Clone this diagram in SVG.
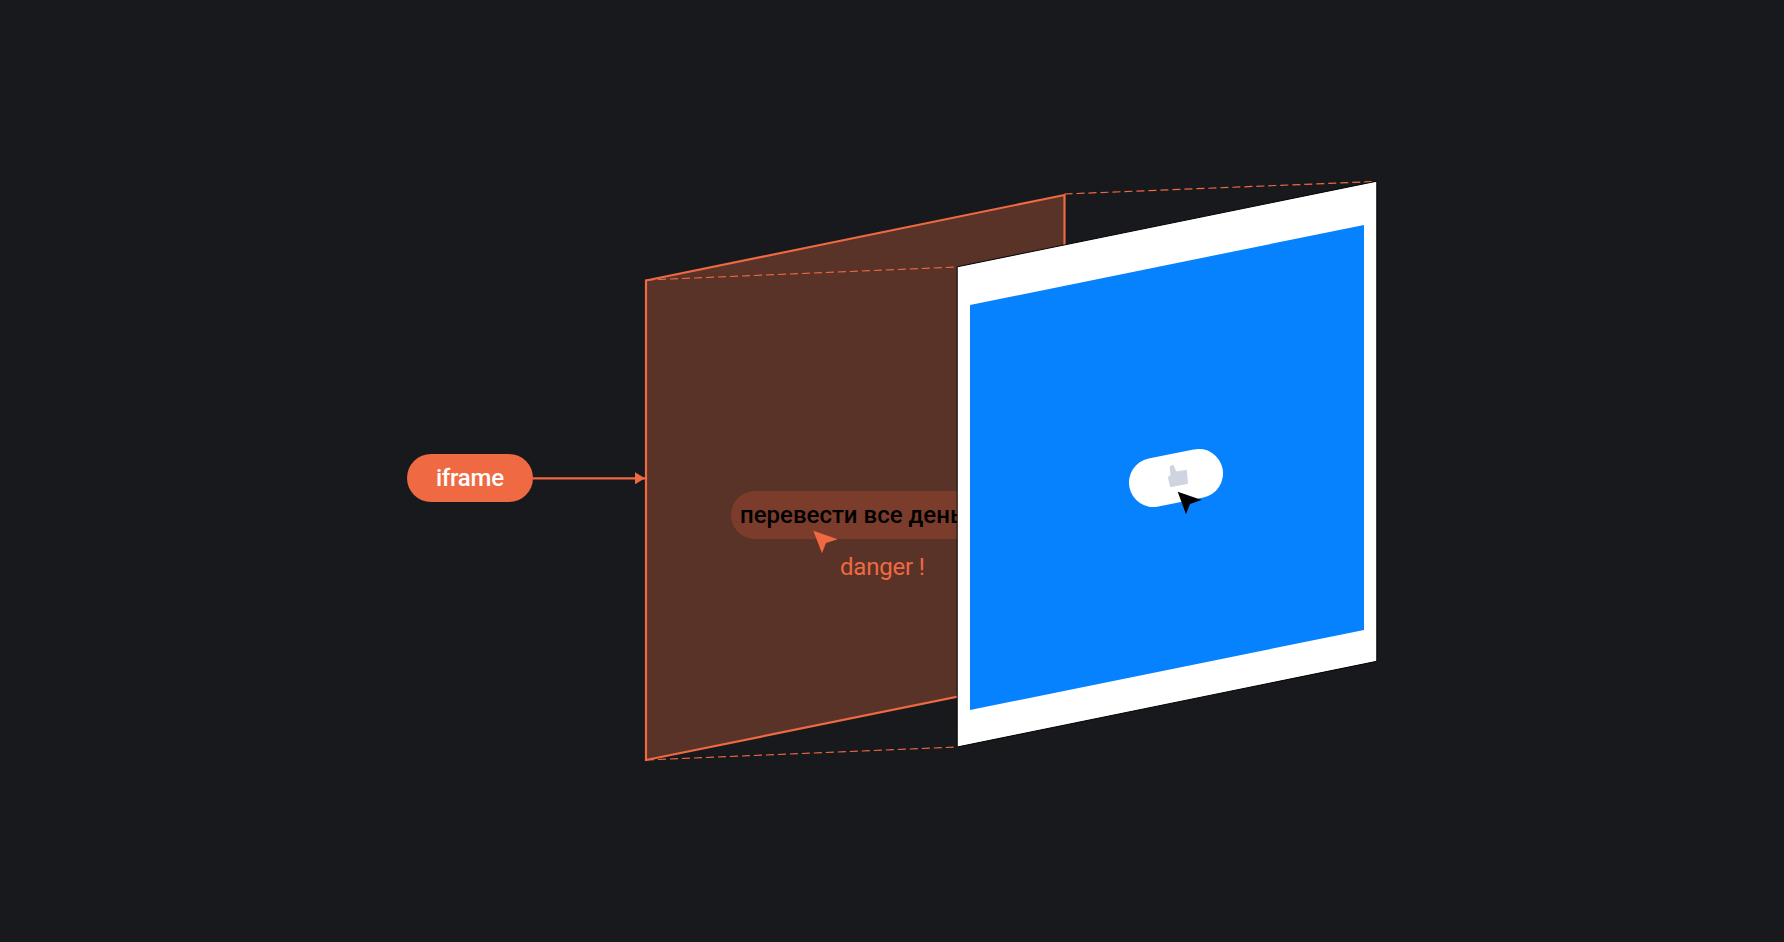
<svg xmlns="http://www.w3.org/2000/svg" width="1784" height="942" viewBox="0 0 1784 942">
<style>
.dash{fill:none;stroke:#ef6942;stroke-width:1.2;stroke-dasharray:8 4}
text{font-family:Roboto,"Liberation Sans",sans-serif}
</style>
<defs>
<marker id="arrow" viewBox="0 0 10 12" markerWidth="10" markerHeight="12" refX="10" refY="6" markerUnits="userSpaceOnUse" orient="auto"><path d="M0 0L10 6L0 12Z" fill="#ef6942"/></marker>
</defs>
<rect width="1784" height="942" fill="#18191d"/>
<g id="iframe-panel">
<path d="M646 280.5L1064.5 195V675L646 760Z" fill="#593228" stroke="#ef6942" stroke-width="2.2"/>
<rect x="731" y="491" width="300" height="48" rx="24" fill="#7c3c2c"/>
<text x="740" y="523" font-size="24" font-weight="500" fill="#000">перевести все день</text>
<path d="M813.3 530.7L837.7 539.3L826 543L822 553.3Z" fill="#ef6942"/>
<text x="840" y="575" font-size="24" font-weight="400" fill="#ef6942" textLength="85">danger !</text>
</g>
<g id="connectors">
<path d="M533 478.3H645" fill="none" stroke="#ef6942" stroke-width="2.2" marker-end="url(#arrow)"/>
<path class="dash" d="M646 280L958 267"/>
<path class="dash" d="M646 760L958 747"/>
<path class="dash" d="M1064.5 194L1376 181.5"/>
</g>
<g id="iframe-label">
<rect x="407" y="454" width="126" height="48" rx="24" fill="#ef6942"/>
<text x="470" y="486" font-size="24" font-weight="500" fill="#fff" text-anchor="middle" textLength="68">iframe</text>
</g>
<g id="page-panel">
<path d="M957.2 266.8L1376.8 181.2V661.3L957.2 747Z" fill="#fff" stroke="#000" stroke-width="1"/>
<path d="M970 305L1364 225V630L970 710Z" fill="#0782ff"/>
<rect x="1128.5" y="453.5" width="95" height="49" rx="24.5" fill="#fff" transform="rotate(-11.5 1176 478)"/>
<path d="M1169 477.5L1171.5 475.5L1170.7 467L1173 466L1175.5 472.5L1186 471L1187 483L1171 486Z" fill="#ced4e0" stroke="#ced4e0" stroke-width="2" stroke-linejoin="round"/>
<path d="M1177.7 491.7L1201.7 500L1190 504L1186 514.3Z" fill="#000"/>
</g>
</svg>
